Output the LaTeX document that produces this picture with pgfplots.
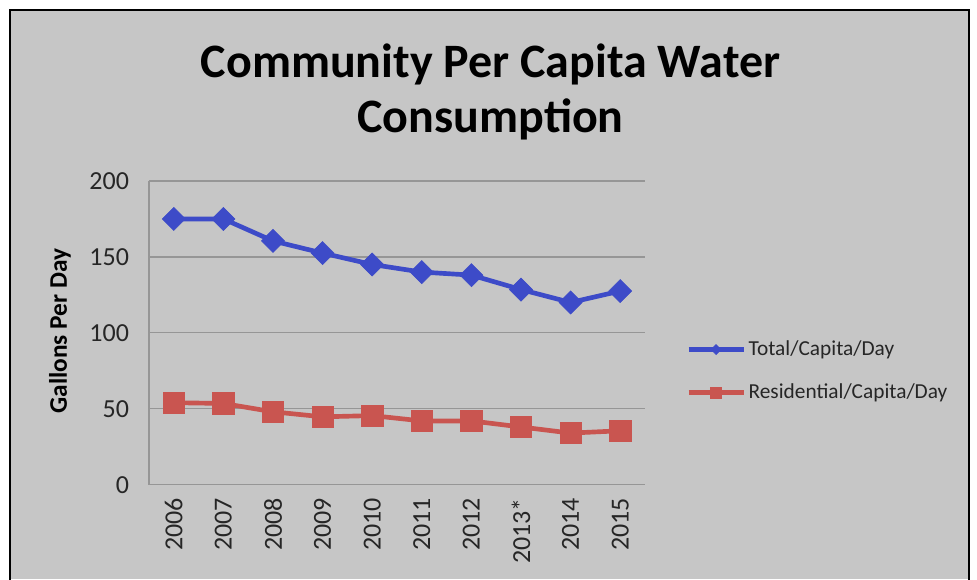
\documentclass[border=0pt]{standalone}
\usepackage{pgfplots}
\pgfplotsset{compat=1.18}
\usepackage{fontspec}
\setmainfont{Carlito}
\definecolor{bgc}{RGB}{198,198,198}
\definecolor{gridc}{RGB}{150,150,150}
\definecolor{blueS}{RGB}{61,75,200}
\definecolor{redS}{RGB}{201,85,80}
\pgfplotsset{
  legB/.style={legend image code/.code={\draw[##1,mark=none] (0pt,0pt)--(41.25pt,0pt); \draw[##1, mark size=2.65pt] plot coordinates {(20.6pt,0pt)};}},
  legR/.style={legend image code/.code={\draw[##1,mark=none] (0pt,0pt)--(41.25pt,0pt); \draw[##1, mark size=4.1pt] plot coordinates {(20.6pt,0pt)};}},
}
\begin{document}
\begin{tikzpicture}
\useasboundingbox (0,0) rectangle (732.75pt,434.25pt);
\fill[white] (0,0) rectangle (732.75pt,434.25pt);
\fill[bgc] (7.5pt,0pt) rectangle (726.5pt,426.75pt);
\draw[black,line width=1.5pt] (7.5pt,-2pt) -- (7.5pt,426.75pt) -- (726.5pt,426.75pt) -- (726.5pt,-2pt);
\node[anchor=base,font=\fontsize{36}{40}\selectfont\bfseries] at (367.9pt,375.75pt) {Community Per Capita Water};
\node[anchor=base,font=\fontsize{36}{40}\selectfont\bfseries] at (367.9pt,334.5pt) {Consumption};
\begin{axis}[
  at={(111.75pt,70.725pt)}, anchor=south west,
  scale only axis, width=372pt, height=227.8pt,
  xmin=-0.5, xmax=9.5, ymin=0, ymax=200,
  xtick={0,1,2,3,4,5,6,7,8,9},
  xticklabels={2006,2007,2008,2009,2010,2011,2012,2013*,2014,2015},
  ytick={0,50,100,150,200},
  major tick length=0pt,
  axis lines*=left,
  axis line style={draw=gridc, line width=0.9pt},
  ymajorgrids, grid style={draw=gridc, line width=0.9pt},
  /pgf/number format/assume math mode=true,
  tick label style={font=\fontsize{19.5}{22}\selectfont, text=black!85},
  yticklabel style={xshift=-11.5pt},
  xticklabel style={rotate=90, anchor=east, yshift=0pt, xshift=-6.5pt},
  ylabel={Gallons Per Day},
  ylabel style={at={(axis description cs:-0.1794,0.506)}, anchor=center, font=\fontsize{19}{22}\selectfont\bfseries},
  legend style={draw=none, fill=none, inner sep=0pt, at={(axis description cs:1.0827,0.3744)}, anchor=west,
    font=\fontsize{16}{19}\selectfont, row sep=15.5pt, text=black!85},
  legend cell align=left,
]
\addplot[blueS, line width=3.5pt, mark=square*, mark size=6.1pt, mark options={rotate=45, fill=blueS, draw=blueS, line width=0.5pt}, legB]
  coordinates {(0,175) (1,175) (2,160.5) (3,152.5) (4,145) (5,140) (6,138) (7,128.5) (8,120) (9,127.5)};
\addlegendentry{Total/Capita/Day}
\addplot[redS, line width=3.5pt, mark=square*, mark size=8pt, mark options={fill=redS, draw=redS, line width=0.5pt}, legR]
  coordinates {(0,54) (1,53.5) (2,48) (3,44.7) (4,45.5) (5,42) (6,42) (7,38) (8,34) (9,35.5)};
\addlegendentry{Residential/Capita/Day}
\end{axis}
\end{tikzpicture}
\end{document}
